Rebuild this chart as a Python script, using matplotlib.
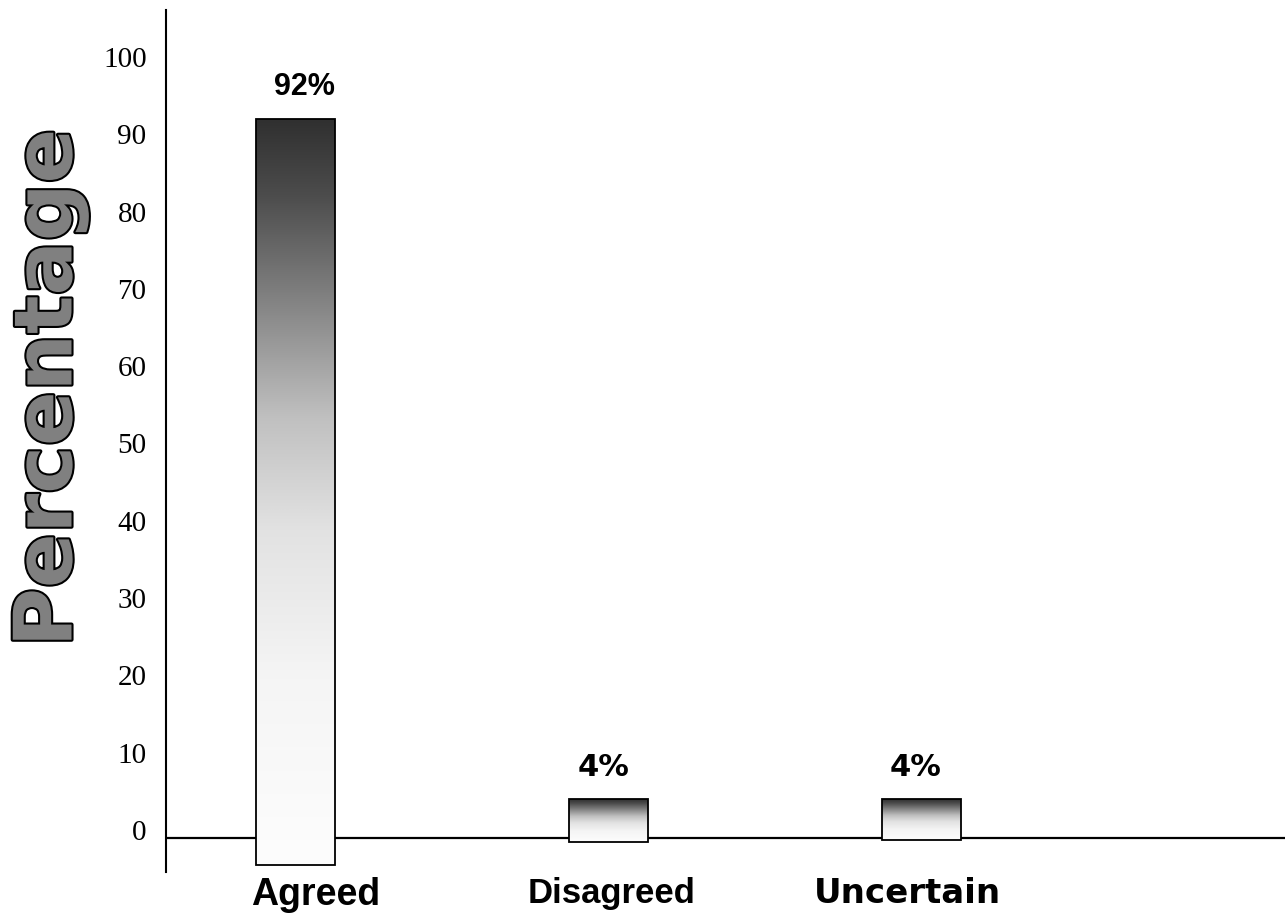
import numpy as np
import matplotlib
matplotlib.use('Agg')
import matplotlib.pyplot as plt
import matplotlib.patheffects as pe
from matplotlib.colors import LinearSegmentedColormap

## Données

categories = ['Agreed', 'Disagreed', 'Uncertain']
percent = [92, 4, 4]
labels = ['92%', '4%', '4%']
yticks = [0, 10, 20, 30, 40, 50, 60, 70, 80, 90, 100]

# bas des barres (elles descendent un peu sous l'axe)
base = [-4.5, -1.5, -1.3]

## Figure

fig = plt.figure(figsize=(12.85, 9.14), dpi=100)
ax = fig.add_axes([0.1292, 0.0460, 0.8708, 0.9431])

x = np.arange(len(categories))
w = 0.252
cmap = LinearSegmentedColormap.from_list('gris', [
    (0.0, '#fdfdfd'), (0.25, '#f5f5f5'), (0.45, '#e2e2e2'), (0.6, '#c0c0c0'),
    (0.78, '#7a7a7a'), (0.9, '#4c4c4c'), (1.0, '#303030')])
grad = np.linspace(0, 1, 256).reshape(-1, 1)

bars = ax.bar(x, np.array(percent) - np.array(base), bottom=base, width=w,
              facecolor='none', edgecolor='black', linewidth=1.3, zorder=3)

# dégradé blanc -> gris foncé dans chaque barre
for b in bars:
    x0, y0 = b.get_x(), b.get_y()
    ax.imshow(grad, extent=[x0, x0 + b.get_width(), y0, y0 + b.get_height()],
              origin='lower', cmap=cmap, aspect='auto', zorder=2,
              interpolation='bicubic')

ax.axhline(-1, color='black', lw=1.6, zorder=1)

ax.set_xlim(-0.4137, 3.1613)
ax.set_ylim(-5.43, 106.08)

for s in ['top', 'right', 'bottom']:
    ax.spines[s].set_visible(False)
ax.spines['left'].set_linewidth(1.5)

ax.set_yticks(yticks)
ax.set_yticklabels([str(t) for t in yticks], family='Liberation Serif', fontsize=21)
ax.tick_params(axis='y', length=0, pad=14)

# noms des catégories sous l'axe (un peu décalés)
ax.set_xticks([])
xfonts = [('Liberation Sans', 27, 0.064), ('Liberation Sans', 25, 0.01),
          ('DejaVu Sans', 24.5, -0.045)]
for xi, cat, (fam, sz, dx) in zip(x, categories, xfonts):
    ax.text(xi + dx, -6.1, cat, ha='center', va='top', family=fam,
            fontsize=sz, fontweight='bold', clip_on=False)

# valeurs au-dessus des barres
vfonts = [('Liberation Sans', 22, 0.03), ('DejaVu Sans', 22, -0.015),
          ('DejaVu Sans', 22, -0.02)]
for xi, p, lab, (fam, sz, dx) in zip(x, percent, labels, vfonts):
    ax.text(xi + dx, p + 2.2, lab, ha='center', va='bottom', family=fam,
            fontsize=sz, fontweight='bold', zorder=4)

# titre vertical
fig.text(0.0389, 0.5755, 'Percentage', rotation=90, ha='center', va='center',
         family='DejaVu Sans', fontweight='bold', fontsize=58, color='#808080',
         path_effects=[pe.Stroke(linewidth=3, foreground='black'), pe.Normal()])

fig.savefig('out.png', dpi=100)
